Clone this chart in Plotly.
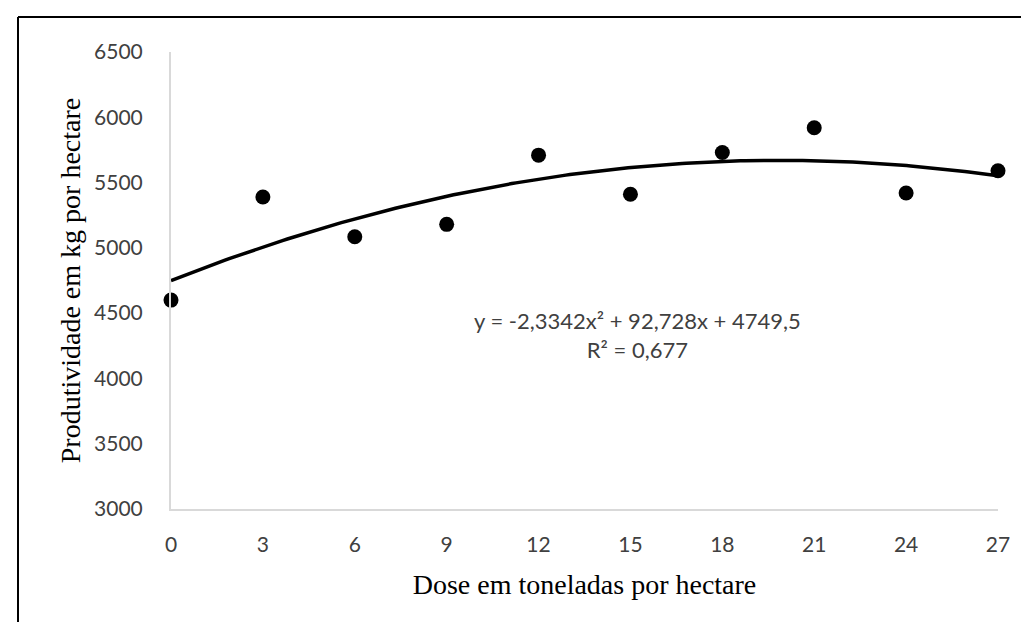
import plotly.graph_objects as go
import numpy as np

# Data
doses = [0, 3, 6, 9, 12, 15, 18, 21, 24, 27]
yields = [4600, 5390, 5085, 5180, 5710, 5410, 5730, 5920, 5420, 5590]

# Trendline coefficients (as shown on chart)
coef_a = -2.3342
coef_b = 92.728
coef_c = 4749.5

x_ticks = [0, 3, 6, 9, 12, 15, 18, 21, 24, 27]
y_ticks = [3000, 3500, 4000, 4500, 5000, 5500, 6000, 6500]

xt = np.linspace(min(doses), max(doses), 200)
yt = coef_a * xt**2 + coef_b * xt + coef_c

fig = go.Figure()
fig.add_trace(go.Scatter(x=xt, y=yt, mode="lines",
                         line=dict(color="black", width=3.5), hoverinfo="skip",
                         cliponaxis=False))
fig.add_trace(go.Scatter(x=doses, y=yields, mode="markers",
                         marker=dict(color="black", size=15),
                         cliponaxis=False))

L, R, T, B = 163, 39, 44, 121
W, H = 1029, 622
pw, ph = W - L - R, H - T - B

def px(x):
    return (x - L) / pw

def py(y):
    return (H - B - y) / ph

tick_font = dict(family="Lato", size=21, color="#404040")
title_font = dict(family="Liberation Serif", size=28, color="black")

fig.update_layout(
    width=W, height=H,
    margin=dict(l=L, r=R, t=T, b=B, autoexpand=False),
    paper_bgcolor="white", plot_bgcolor="white",
    showlegend=False,
    xaxis=dict(range=[0, 27], tickvals=x_ticks, showgrid=False, zeroline=False,
               showline=True, linecolor="#d9d9d9", linewidth=2,
               ticks="", ticklabelstandoff=16, tickfont=tick_font,
               title=dict(text="Dose em toneladas por hectare", standoff=19,
                          font=title_font)),
    yaxis=dict(range=[3000, 6500], tickvals=y_ticks, showgrid=False, zeroline=False,
               showline=True, linecolor="#d9d9d9", linewidth=2,
               ticks="", ticklabelstandoff=22, tickfont=tick_font,
               title=dict(text="Produtividade em kg por hectare", standoff=5,
                          font=title_font)),
)

fig.add_annotation(xref="paper", yref="paper", x=px(795), y=py(357),
                   text="y = -2,3342x² + 92,728x + 4749,5<br>R² = 0,677",
                   showarrow=False, align="center",
                   font=dict(family="Lato", size=22, color="#404040"))

# outer border (left and top)
fig.add_shape(type="line", xref="paper", yref="paper",
              x0=px(10), x1=px(10), y0=py(9), y1=py(640),
              line=dict(color="black", width=2))
fig.add_shape(type="line", xref="paper", yref="paper",
              x0=px(10), x1=px(1040), y0=py(9), y1=py(9),
              line=dict(color="black", width=2))

fig.write_html("out.html")
